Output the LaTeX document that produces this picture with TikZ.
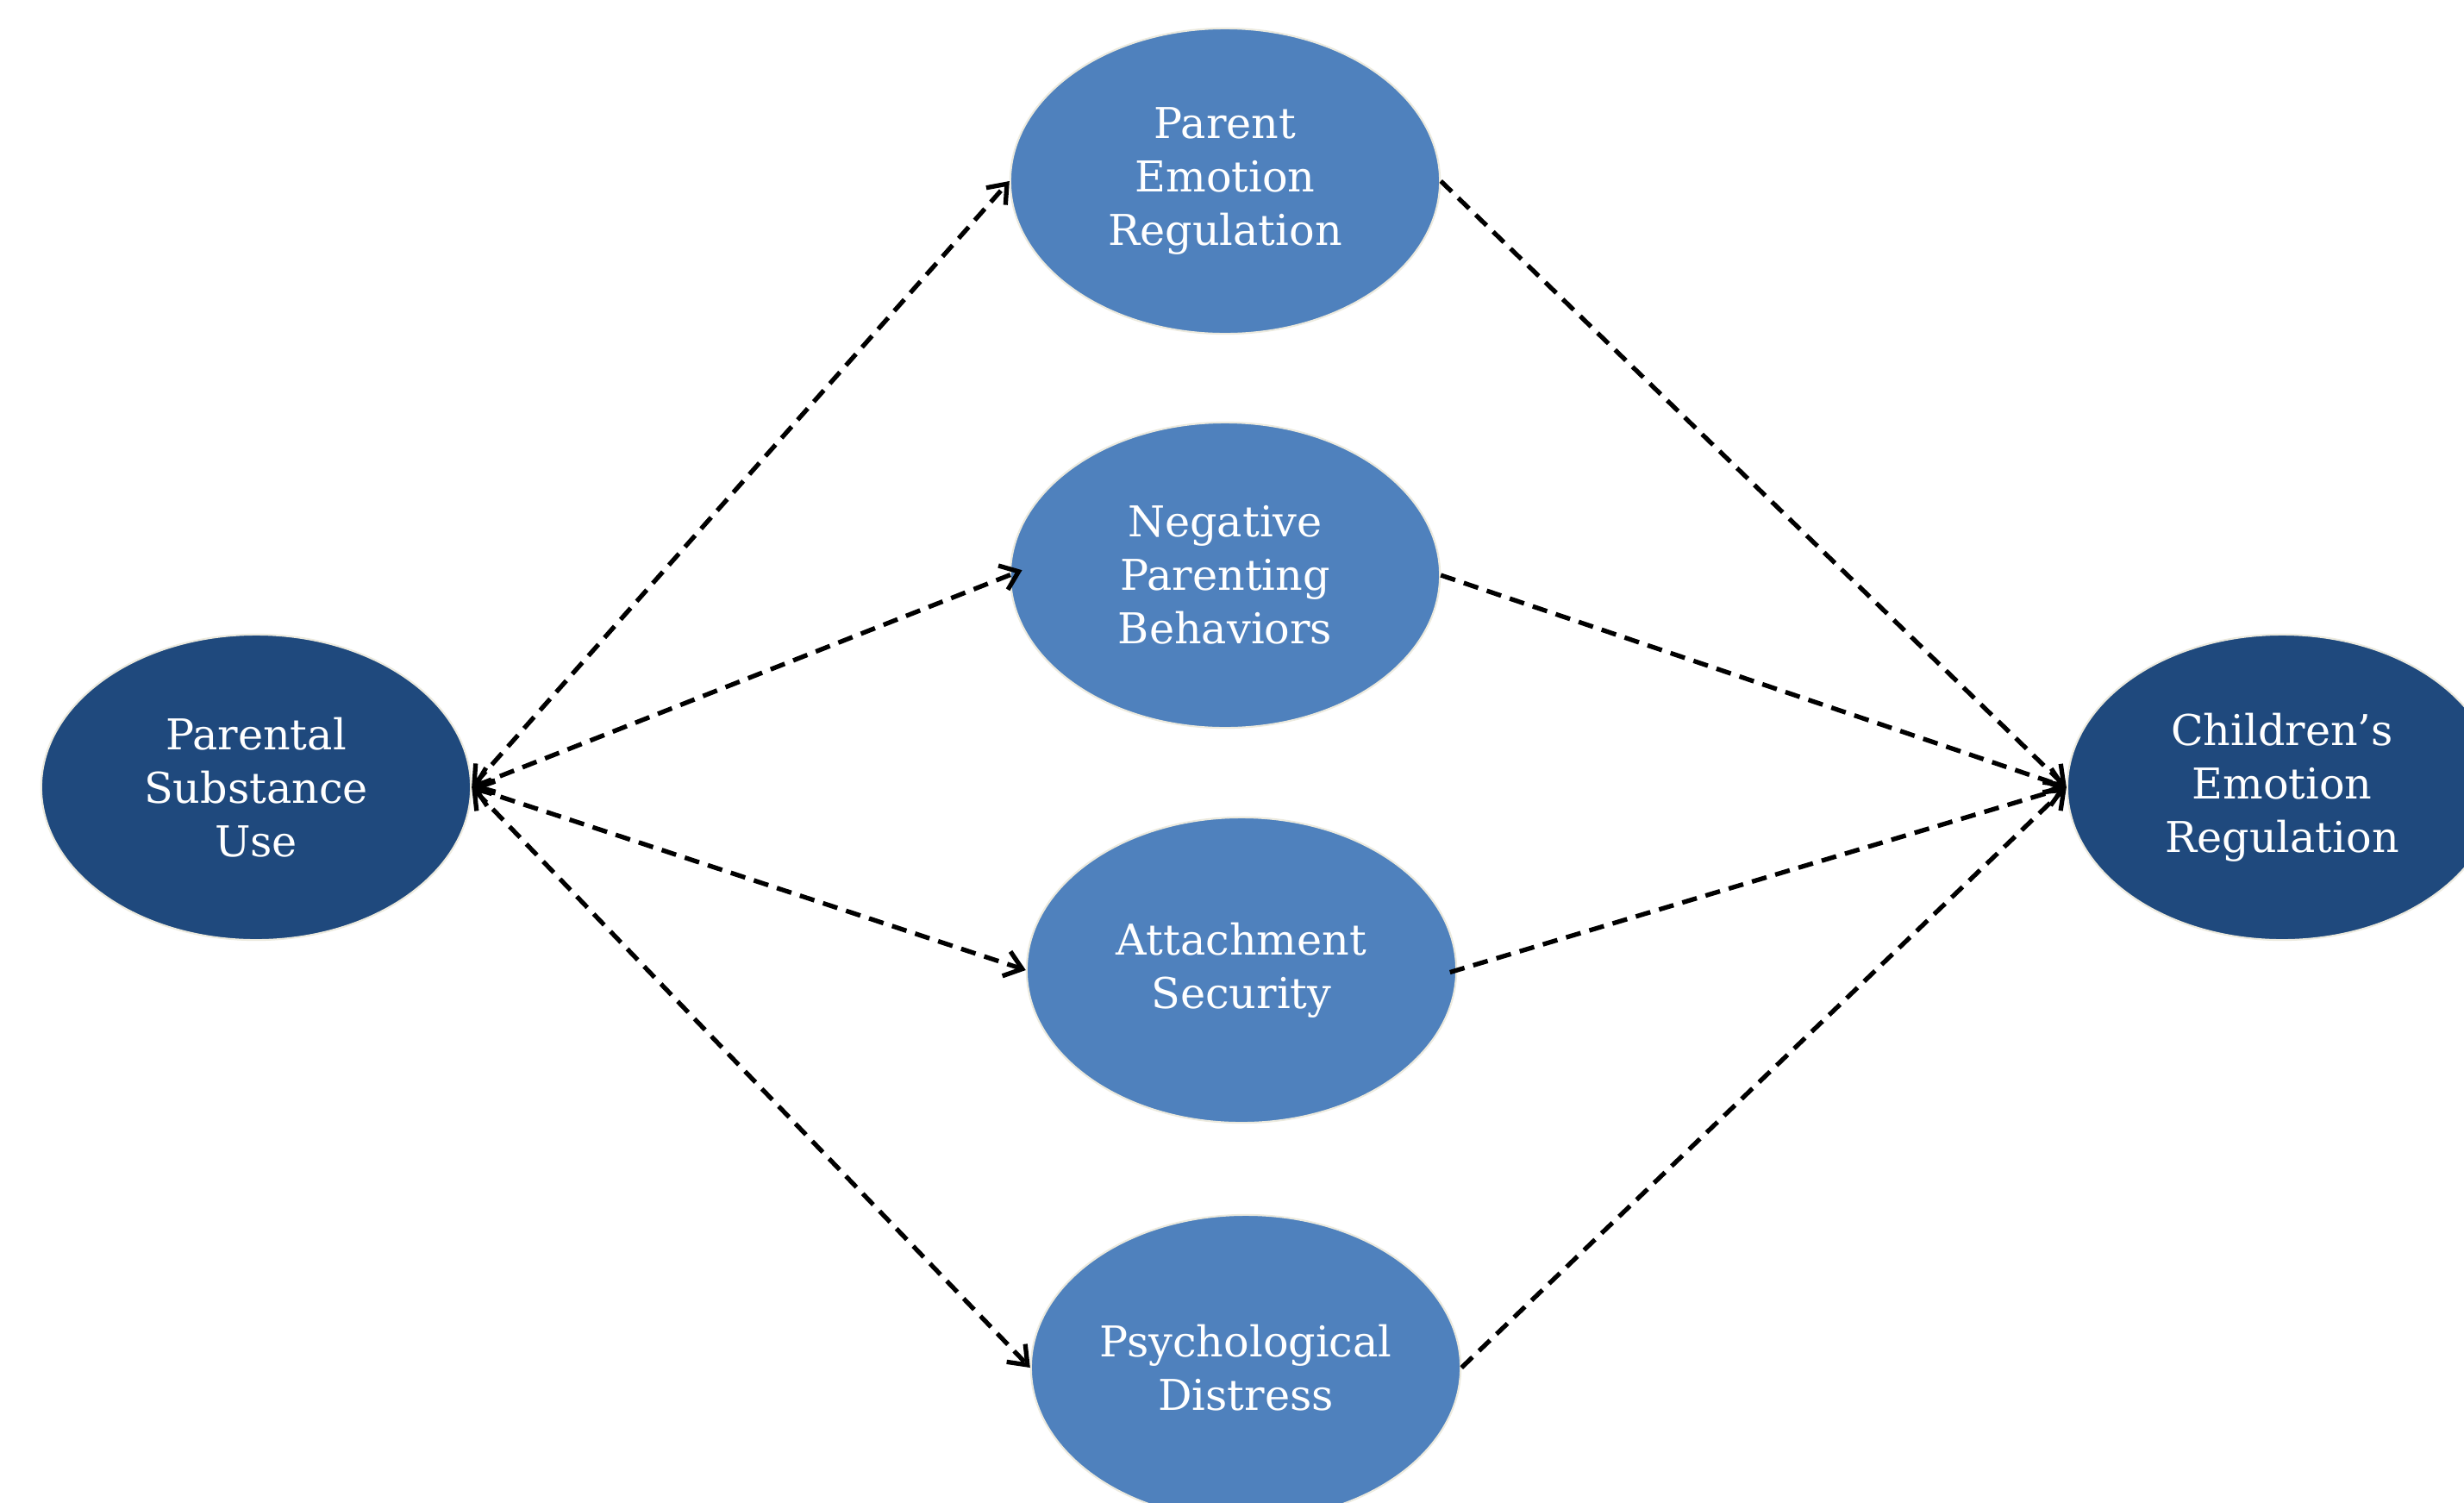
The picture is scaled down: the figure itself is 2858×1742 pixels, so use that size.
\documentclass[tikz,border=0pt]{standalone}
\usepackage{fontspec}
\setmainfont{DejaVu Serif}
\usetikzlibrary{shapes.geometric,arrows.meta}
\definecolor{darkblue}{RGB}{31,73,125}
\definecolor{midblue}{RGB}{79,129,189}
\definecolor{rimcol}{RGB}{236,234,222}
\begin{document}
\begin{tikzpicture}[x=0.01cm,y=-0.01cm,
  oval/.style={ellipse, minimum width=4.98cm, minimum height=3.54cm, inner sep=0pt,
    draw=rimcol, line width=0.6pt, text=white, align=center,
    font=\fontsize{14}{17.6}\selectfont},
  outernode/.style={oval, fill=darkblue},
  innernode/.style={oval, fill=midblue},
  link/.style={draw=black, line width=1.5pt, dash pattern=on 5pt off 3pt},
  biarrow/.style={link, {Straight Barb[length=5.5pt,width=8.5pt]}-{Straight Barb[length=5.5pt,width=8.5pt]}},
  onearrow/.style={link, -{Straight Barb[length=5.5pt,width=8.5pt]}}
]
\useasboundingbox (0,0) rectangle (2858,1742);
\clip (0,0) rectangle (2858,1742);
\fill[white] (0,0) rectangle (2858,1742);

\node[outernode] (psu) at (297,913) {Parental\\Substance\\Use};
\node[innernode] (per) at (1421,210) {Parent\\Emotion\\Regulation};
\node[innernode] (npb) at (1421,667) {Negative\\Parenting\\Behaviors};
\node[innernode] (ats) at (1440,1125) {Attachment\\Security};
\node[innernode] (psd) at (1445,1586) {Psychological\\Distress};
\node[outernode] (cer) at (2647,913) {Children’s\\Emotion\\Regulation};

\draw[biarrow] (psu.east) -- (per.west);
\draw[biarrow, shorten >=-4.5pt] (psu.east) -- (npb.west);
\draw[biarrow] (psu.east) -- (ats.west);
\draw[biarrow] (psu.east) -- (psd.west);

\draw[onearrow] (per.east) -- (cer.west);
\draw[onearrow] (npb.east) -- (cer.west);
\draw[onearrow, shorten <=-2.5pt] (ats.east) -- (cer.west);
\draw[onearrow] (psd.east) -- (cer.west);
\end{tikzpicture}
\end{document}
